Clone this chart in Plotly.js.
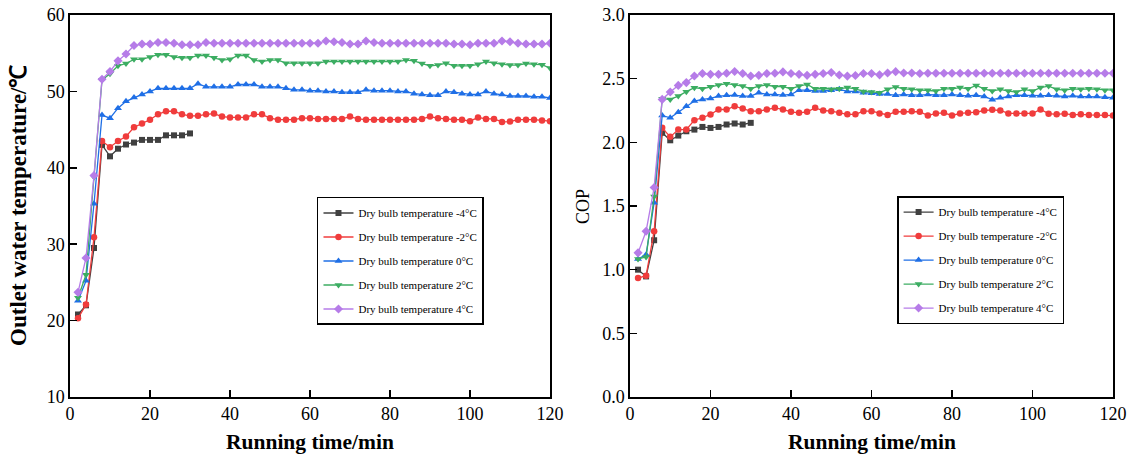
<!DOCTYPE html>
<html>
<head>
<meta charset="utf-8">
<script src="https://cdn.plot.ly/plotly-3.0.1.min.js"></script>
<style>
html,body{margin:0;padding:0;background:#fff;}
#chart{width:1131px;height:457px;}
</style>
</head>
<body>
<div id="chart"></div>
<script>
// Running time (min)
const time = [2,4,6,8,10,12,14,16,18,20,22,24,26,28,30,32,34,36,38,40,42,44,46,48,50,52,54,56,58,60,
              62,64,66,68,70,72,74,76,78,80,82,84,86,88,90,92,94,96,98,100,102,104,106,108,110,112,114,116,118,120];
const timeShort = [2,4,6,8,10,12,14,16,18,20,22,24,26,28,30];

const seriesNames = ["Dry bulb temperature -4°C","Dry bulb temperature -2°C","Dry bulb temperature 0°C",
                     "Dry bulb temperature 2°C","Dry bulb temperature 4°C"];

// Outlet water temperature (°C)
const tempM4 = [20.8,22.0,29.5,43.0,41.5,42.5,43.05,43.3,43.65,43.65,43.65,44.25,44.25,44.25,44.5];
const tempM2 = [20.3,22.1,30.9,43.5,42.7,43.5,44.1,45.3,45.8,46.3,47.0,47.4,47.4,47.0,46.8,46.8,47.0,47.1,46.7,46.6,
                46.6,46.6,47.0,47.0,46.5,46.3,46.3,46.3,46.5,46.5,46.4,46.4,46.4,46.4,46.7,46.4,46.3,46.3,46.3,46.3,
                46.3,46.3,46.3,46.4,46.7,46.5,46.4,46.3,46.3,46.1,46.6,46.4,46.4,46.0,46.05,46.3,46.3,46.3,46.2,46.1];
const temp0  = [22.6,25.2,35.3,46.9,46.5,47.8,48.7,49.2,49.6,50.0,50.4,50.4,50.4,50.4,50.4,51.0,50.6,50.6,50.6,50.6,
                50.9,50.9,50.9,50.6,50.6,50.6,50.4,50.2,50.2,50.1,50.1,50.0,50.0,49.9,49.9,49.9,50.2,50.1,50.1,50.1,
                50.0,50.0,49.7,49.6,49.5,49.5,50.0,49.9,49.7,49.6,49.6,50.0,49.7,49.6,49.4,49.4,49.4,49.3,49.3,49.15];
const temp2  = [23.0,26.0,38.8,51.5,52.3,53.35,53.65,54.2,54.2,54.5,54.8,54.8,54.5,54.4,54.4,54.7,54.7,54.4,54.1,54.2,
                54.7,54.7,54.1,53.9,54.1,54.1,53.7,53.7,53.7,53.7,53.7,53.9,53.9,53.9,53.9,53.9,53.9,53.9,53.9,53.9,
                53.9,54.1,54.0,53.65,53.35,53.45,53.7,53.35,53.35,53.35,53.55,53.9,53.7,53.55,53.45,53.45,53.65,53.55,53.5,53.05];
const temp4  = [23.7,28.2,39.0,51.6,52.6,54.0,54.9,56.0,56.2,56.2,56.4,56.4,56.3,56.1,56.1,56.1,56.4,56.3,56.3,56.3,
                56.3,56.3,56.3,56.3,56.3,56.3,56.3,56.3,56.3,56.3,56.3,56.6,56.5,56.4,56.2,56.2,56.6,56.4,56.3,56.3,
                56.3,56.3,56.3,56.3,56.3,56.3,56.3,56.2,56.2,56.1,56.3,56.3,56.3,56.6,56.5,56.3,56.2,56.2,56.2,56.3];

// COP
const copM4 = [1.0,0.947,1.231,2.075,2.016,2.053,2.087,2.10,2.121,2.113,2.121,2.14,2.148,2.14,2.153];
const copM2 = [0.934,0.953,1.302,2.114,2.043,2.10,2.10,2.174,2.193,2.219,2.258,2.258,2.284,2.266,2.245,2.245,2.258,2.271,2.258,2.24,
               2.232,2.24,2.271,2.25,2.245,2.232,2.22,2.22,2.245,2.245,2.227,2.215,2.24,2.24,2.245,2.24,2.21,2.227,2.232,2.211,
               2.227,2.232,2.237,2.25,2.255,2.25,2.227,2.227,2.227,2.227,2.258,2.225,2.22,2.225,2.215,2.22,2.215,2.215,2.215,2.21];
const cop0  = [1.084,1.118,1.526,2.211,2.193,2.237,2.284,2.324,2.337,2.345,2.363,2.369,2.371,2.363,2.363,2.39,2.376,2.376,2.371,2.376,
               2.41,2.41,2.403,2.403,2.41,2.416,2.40,2.40,2.39,2.385,2.38,2.38,2.37,2.375,2.37,2.37,2.375,2.37,2.37,2.375,
               2.37,2.365,2.37,2.36,2.335,2.35,2.36,2.37,2.37,2.365,2.365,2.37,2.365,2.36,2.365,2.36,2.36,2.36,2.355,2.35];
const cop2  = [1.084,1.10,1.574,2.342,2.337,2.363,2.398,2.429,2.421,2.437,2.45,2.461,2.45,2.442,2.421,2.442,2.45,2.437,2.437,2.421,
               2.442,2.455,2.421,2.421,2.416,2.421,2.43,2.42,2.40,2.395,2.39,2.416,2.435,2.42,2.416,2.41,2.41,2.403,2.42,2.42,
               2.43,2.42,2.447,2.42,2.403,2.416,2.403,2.395,2.416,2.403,2.43,2.442,2.416,2.41,2.42,2.416,2.42,2.416,2.41,2.41];
const cop4  = [1.132,1.302,1.645,2.337,2.395,2.447,2.469,2.521,2.54,2.534,2.534,2.542,2.556,2.54,2.521,2.526,2.54,2.542,2.553,2.54,
               2.534,2.526,2.534,2.54,2.548,2.529,2.52,2.525,2.54,2.54,2.53,2.545,2.555,2.545,2.545,2.54,2.542,2.542,2.542,2.542,
               2.542,2.542,2.542,2.542,2.542,2.542,2.542,2.542,2.542,2.542,2.542,2.542,2.542,2.542,2.542,2.542,2.542,2.542,2.542,2.542];

const colors = ["#404040","#f03c3c","#1f6fe6","#3cad62","#b67ce8"];
const symbols = ["square","circle","triangle-up","triangle-down","diamond"];
const msizes = [6,6.5,7,7,7];

const tempSeries = [[timeShort,tempM4],[time,tempM2],[time,temp0],[time,temp2],[time,temp4]];
const copSeries  = [[timeShort,copM4],[time,copM2],[time,cop0],[time,cop2],[time,cop4]];

const traces = [];
tempSeries.forEach((s,i)=>{
  traces.push({x:s[0],y:s[1],type:'scatter',mode:'lines+markers',name:seriesNames[i],
    legendgroup:'a'+i,legend:'legend',xaxis:'x',yaxis:'y',
    line:{color:colors[i],width:1.3},marker:{symbol:symbols[i],size:msizes[i],color:colors[i]}});
});
copSeries.forEach((s,i)=>{
  traces.push({x:s[0],y:s[1],type:'scatter',mode:'lines+markers',name:seriesNames[i],
    legendgroup:'b'+i,legend:'legend2',xaxis:'x2',yaxis:'y2',
    line:{color:colors[i],width:1.3},marker:{symbol:symbols[i],size:msizes[i],color:colors[i]}});
});

const serif = '"Liberation Serif","Times New Roman",serif';
const axBase = {showline:true,linecolor:'#000',linewidth:1.6,mirror:true,ticks:'inside',ticklen:7,tickwidth:1.5,
  tickcolor:'#000',showgrid:false,zeroline:false,tickfont:{family:serif,size:18,color:'#000'}};

const legBase = {font:{family:serif,size:11,color:'#000'},bgcolor:'#fff',bordercolor:'#000',borderwidth:1.5,
  tracegroupgap:5,xanchor:'left',yanchor:'top'};

const layout = {
  width:1131,height:457,
  margin:{l:70,r:18,t:15,b:60},
  paper_bgcolor:'#fff',plot_bgcolor:'#fff',
  showlegend:true,
  xaxis:Object.assign({},axBase,{domain:[0,0.4602],range:[0,120],dtick:20,anchor:'y'}),
  yaxis:Object.assign({},axBase,{range:[10,60],dtick:10,anchor:'x'}),
  xaxis2:Object.assign({},axBase,{domain:[0.5369,1],range:[0,120],dtick:20,anchor:'y2'}),
  yaxis2:Object.assign({},axBase,{range:[0,3],dtick:0.5,tickformat:'.1f',anchor:'x2'}),
  legend:Object.assign({},legBase,{x:0.2368,y:0.5236}),
  legend2:Object.assign({},legBase,{x:0.793,y:0.526}),
  annotations:[
    {text:'<b>Running time/min</b>',xref:'paper',yref:'paper',x:0.2301,y:-0.1178,showarrow:false,
      xanchor:'center',yanchor:'middle',font:{family:serif,size:21.5,color:'#000'}},
    {text:'<b>Running time/min</b>',xref:'paper',yref:'paper',x:0.769,y:-0.1178,showarrow:false,
      xanchor:'center',yanchor:'middle',font:{family:serif,size:21.5,color:'#000'}},
    {text:'<b>Outlet water temperature/℃</b>',xref:'paper',yref:'paper',x:-0.0499,y:0.5026,showarrow:false,
      textangle:-90,xanchor:'center',yanchor:'middle',font:{family:serif,size:23,color:'#000'}},
    {text:'COP',xref:'paper',yref:'paper',x:0.4918,y:0.5,showarrow:false,
      textangle:-90,xanchor:'center',yanchor:'middle',font:{family:serif,size:18,color:'#000'}}
  ]
};

Plotly.newPlot('chart',traces,layout,{displayModeBar:false,staticPlot:true});
</script>
</body>
</html>
